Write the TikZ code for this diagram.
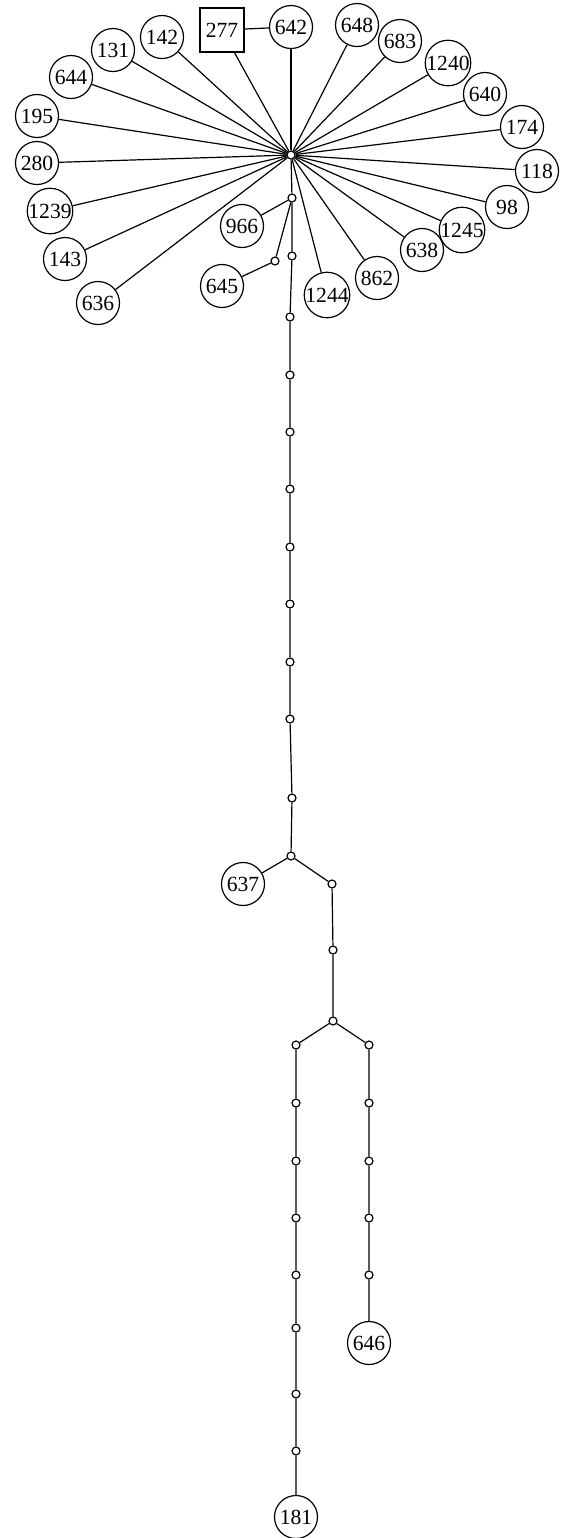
\documentclass[tikz,border=0pt]{standalone}
\usepackage{fontspec}
\setmainfont{Liberation Serif}
\begin{document}
\begin{tikzpicture}[x=0.5pt,y=-0.5pt,
  big/.style={circle,draw,fill=white,line width=0.6pt,minimum size=21.5pt,inner sep=0pt,font=\fontsize{10.8}{11}\selectfont},
  sq/.style={rectangle,draw,fill=white,line width=0.6pt,minimum size=22pt,inner sep=0pt,font=\fontsize{10.8}{11}\selectfont},
  sm/.style={circle,draw,fill=white,line width=0.6pt,minimum size=4pt,inner sep=0pt},
  edge/.style={line width=0.6pt}]
\useasboundingbox (0,0) rectangle (561,1538);
% hub
\node[sm] (hub) at (291,155) {};
% outer nodes
\node[sq]  (n277)  at (222,30) {277};
\node[big] (n642)  at (291,27) {642};
\node[big] (n142)  at (162,37) {142};
\node[big] (n131)  at (113,50) {131};
\node[big] (n644)  at (71,77) {644};
\node[big] (n195)  at (37,116) {195};
\node[big] (n280)  at (37,163) {280};
\node[big] (n1239) at (50,211) {1239};
\node[big] (n143)  at (65,259) {143};
\node[big] (n636)  at (98,303) {636};
\node[big] (n648)  at (357,25) {648};
\node[big] (n683)  at (400,41) {683};
\node[big] (n1240) at (448,63) {1240};
\node[big] (n640)  at (485,94) {640};
\node[big] (n174)  at (522,127) {174};
\node[big] (n118)  at (537,171) {118};
\node[big] (n98)   at (507,207) {98};
\node[big] (n1245) at (462,230) {1245};
\node[big] (n638)  at (422,250) {638};
\node[big] (n862)  at (377,278) {862};
\node[big] (n1244) at (327,295) {1244};
\node[big] (n966)  at (242,226) {966};
\node[big] (n645)  at (222,286) {645};
\node[sm] (s1) at (292,198) {};
\node[sm] (s645) at (275,261) {};
% main chain
\node[sm] (c1) at (292,256) {};
\node[sm] (c2) at (290,317) {};
\node[sm] (c3) at (290,375) {};
\node[sm] (c4) at (290,432) {};
\node[sm] (c5) at (290,489) {};
\node[sm] (c6) at (290,547) {};
\node[sm] (c7) at (290,604) {};
\node[sm] (c8) at (290,662) {};
\node[sm] (c9) at (290,719) {};
\node[sm] (c10) at (292,798) {};
\node[sm] (j1) at (291,856) {};
\node[big] (n637) at (243,884) {637};
\node[sm] (d1) at (332,884) {};
\node[sm] (d2) at (333,950) {};
\node[sm] (j2) at (333,1021) {};
% left branch
\node[sm] (l1) at (296,1045) {};
\node[sm] (l2) at (296,1103) {};
\node[sm] (l3) at (296,1161) {};
\node[sm] (l4) at (296,1218) {};
\node[sm] (l5) at (296,1275) {};
\node[sm] (l6) at (296,1328) {};
\node[sm] (l7) at (296,1394) {};
\node[sm] (l8) at (296,1451) {};
\node[big] (n181) at (296,1517) {181};
% right branch
\node[sm] (r1) at (369,1045) {};
\node[sm] (r2) at (369,1103) {};
\node[sm] (r3) at (369,1161) {};
\node[sm] (r4) at (369,1218) {};
\node[sm] (r5) at (369,1275) {};
\node[big] (n646) at (369,1343) {646};
% edges
\foreach \n in {n277,n642,n142,n131,n644,n195,n280,n1239,n143,n636,n648,n683,n1240,n640,n174,n118,n98,n1245,n638,n862,n1244}
  \draw[edge] (hub) -- (\n);
\draw[edge] (n277) -- (n642);
\draw[edge] (hub) -- (s1);
\draw[edge] (s1) -- (n966);
\draw[edge] (s1) -- (s645) -- (n645);
\draw[edge] (s1) -- (c1) -- (c2) -- (c3) -- (c4) -- (c5) -- (c6) -- (c7) -- (c8) -- (c9) -- (c10) -- (j1);
\draw[edge] (j1) -- (n637);
\draw[edge] (j1) -- (d1) -- (d2) -- (j2);
\draw[edge] (j2) -- (l1) -- (l2) -- (l3) -- (l4) -- (l5) -- (l6) -- (l7) -- (l8) -- (n181);
\draw[edge] (j2) -- (r1) -- (r2) -- (r3) -- (r4) -- (r5) -- (n646);
\end{tikzpicture}
\end{document}
